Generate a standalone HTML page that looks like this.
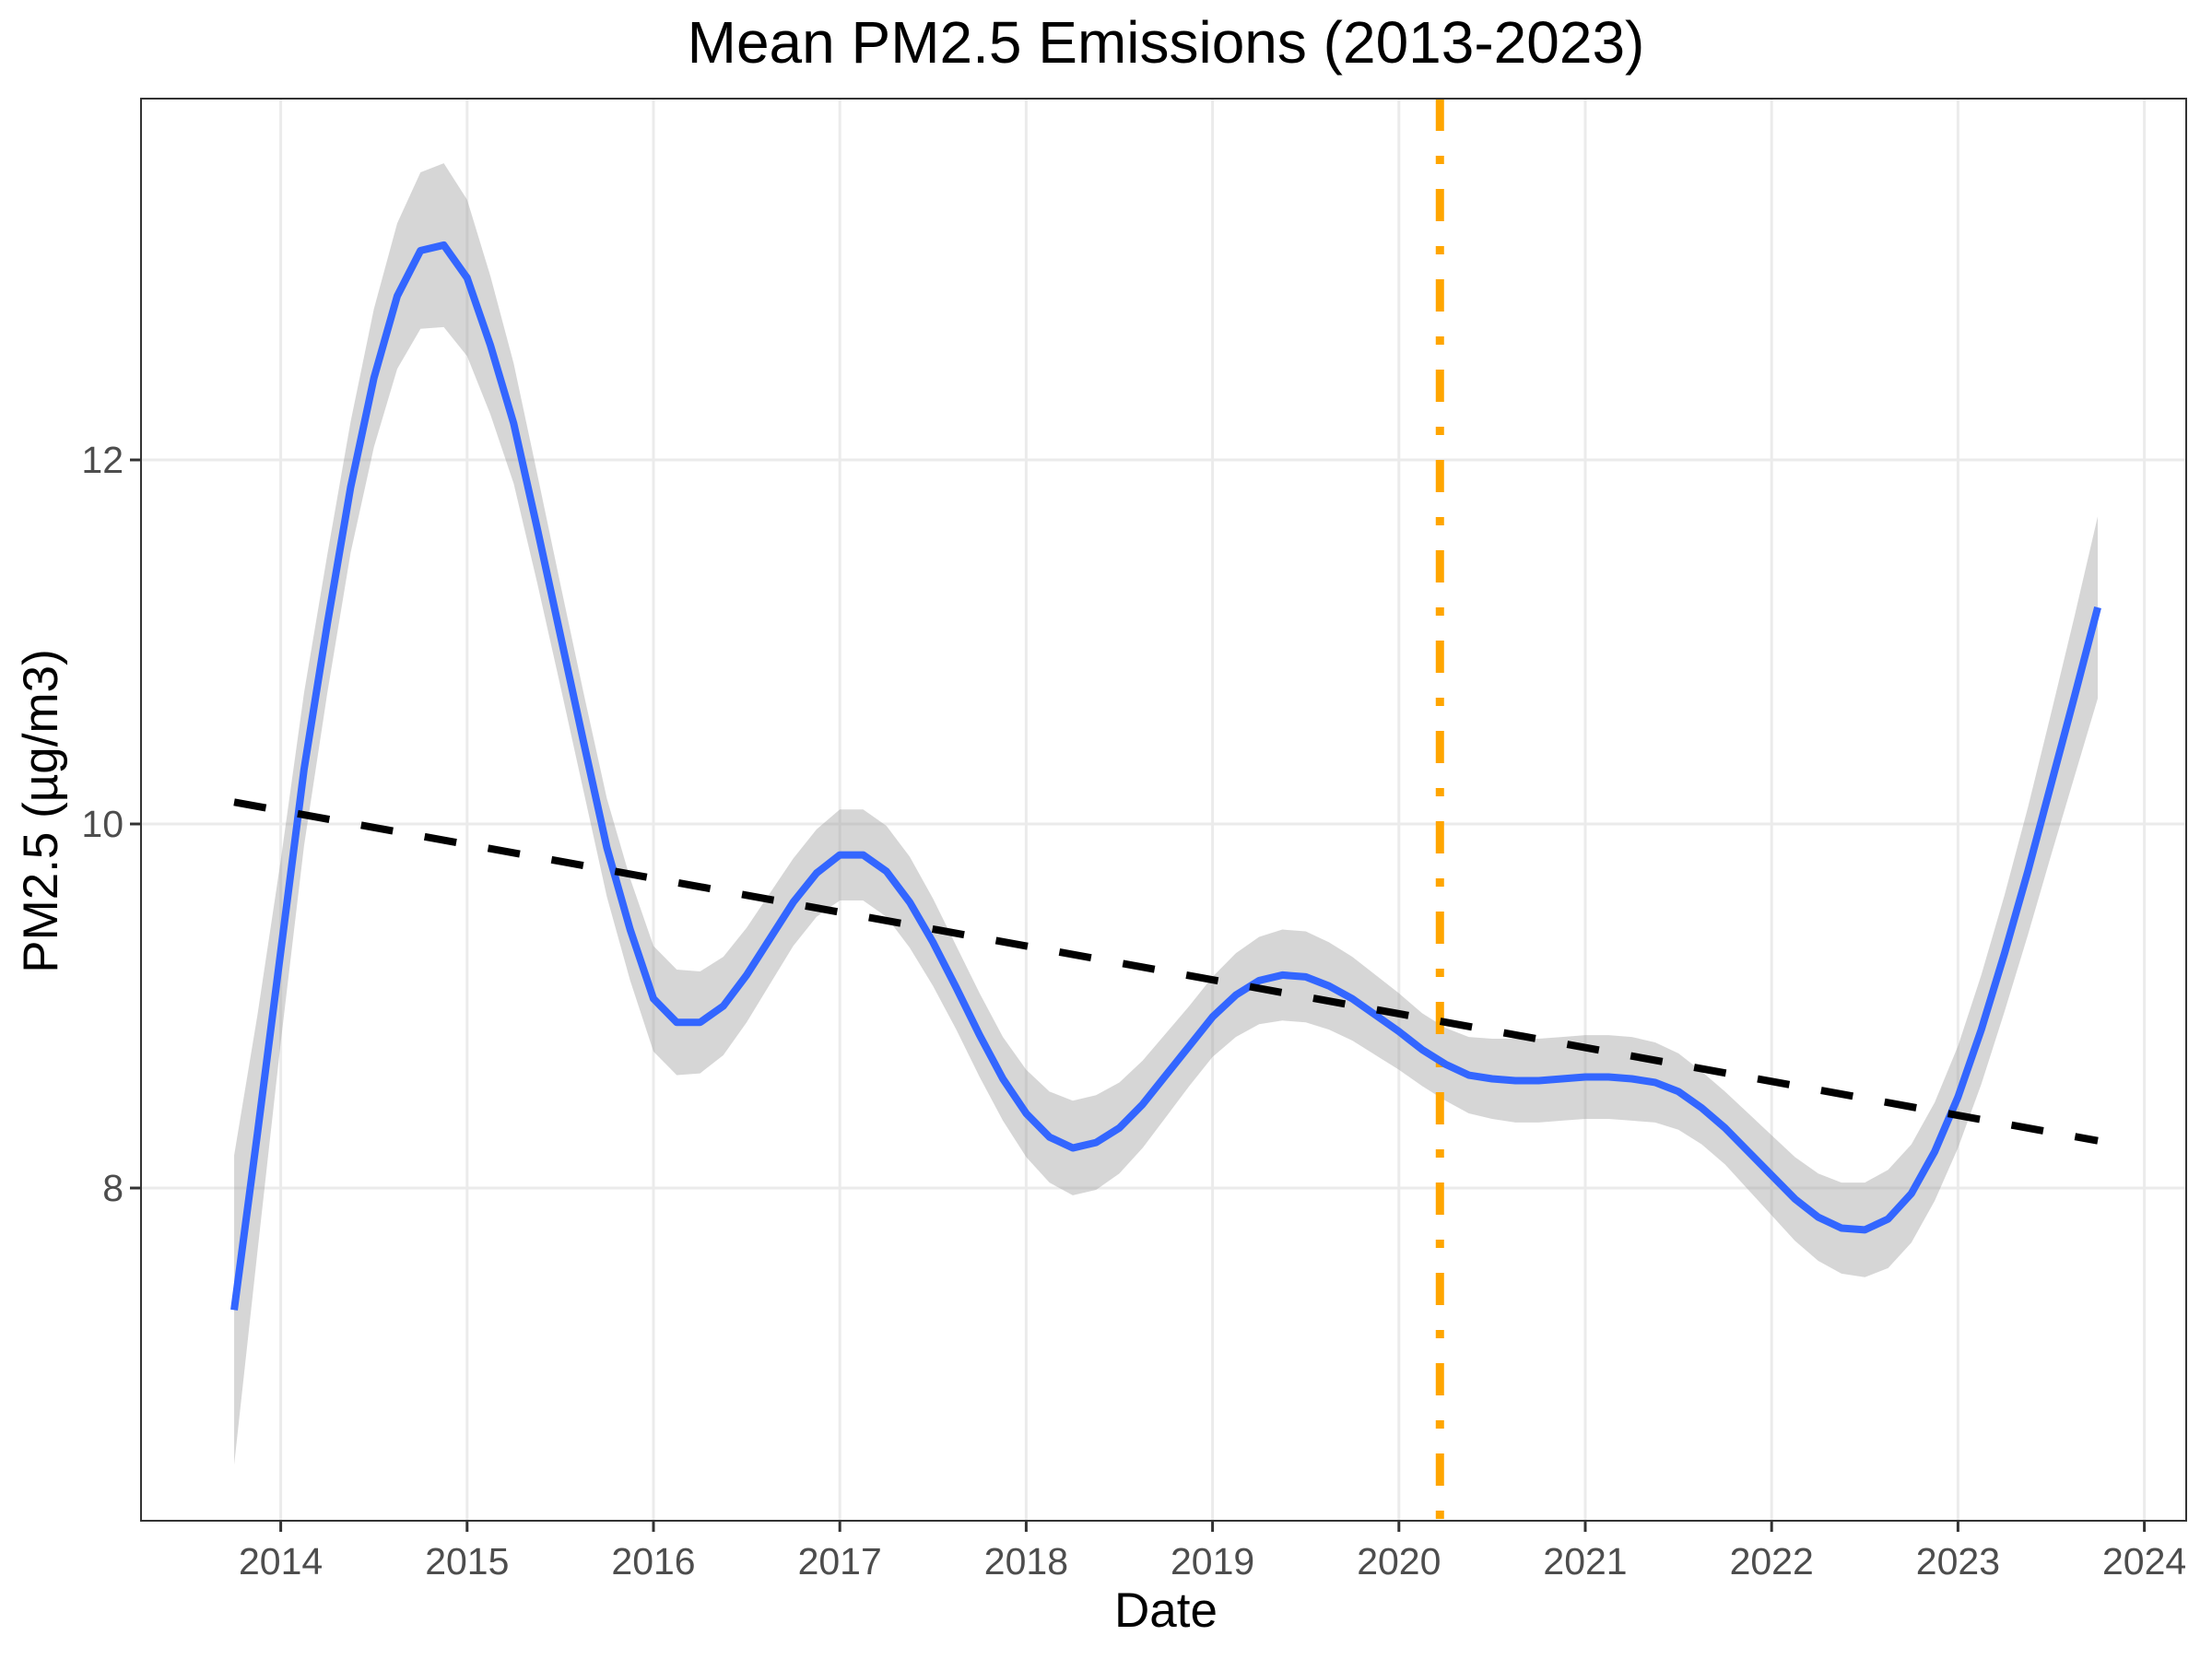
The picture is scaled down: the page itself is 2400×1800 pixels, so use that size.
<!DOCTYPE html>
<html><head><meta charset="utf-8"><style>
html,body{margin:0;padding:0;background:#fff;}
svg{display:block;font-family:"Liberation Sans",Arial,sans-serif;}
</style></head><body>
<svg id="chart" width="2400" height="1800" viewBox="0 0 2400 1800">
<rect width="2400" height="1800" fill="#fff"/>
<text x="1265" y="68" font-size="64" text-anchor="middle" fill="#000">Mean PM2.5 Emissions (2013-2023)</text>
<g id="grid"></g>
<g id="marks"></g>
<rect x="153" y="107" width="2219" height="1543" fill="none" stroke="#333" stroke-width="2"/>
<g id="axes"></g>
<text x="1265" y="1765" font-size="53" text-anchor="middle" fill="#000">Date</text>
<text transform="translate(62,880) rotate(-90)" font-size="53" text-anchor="middle" fill="#000">PM2.5 (µg/m3)</text>
</svg>
<script>
const xTicks = [2014,2015,2016,2017,2018,2019,2020,2021,2022,2023,2024];
const yTicks = [8,10,12];
const startYear = 2013.75;
const stepYear = 0.125;
const smoothVals = [7.33,8.3,9.3,10.3,11.1,11.85,12.45,12.9,13.15,13.18,13.0,12.63,12.2,11.63,11.04,10.45,9.87,9.42,9.04,8.91,8.91,9.0,9.17,9.37,9.57,9.73,9.83,9.83,9.74,9.57,9.35,9.1,8.84,8.6,8.41,8.28,8.22,8.25,8.33,8.46,8.62,8.78,8.94,9.06,9.14,9.17,9.16,9.11,9.04,8.95,8.86,8.76,8.68,8.62,8.6,8.59,8.59,8.6,8.61,8.61,8.6,8.58,8.53,8.44,8.33,8.2,8.07,7.94,7.84,7.78,7.77,7.83,7.97,8.2,8.5,8.87,9.29,9.74,10.22,10.7,11.19];
const bandHalf = [0.85,0.65,0.5,0.42,0.38,0.36,0.38,0.4,0.43,0.45,0.43,0.38,0.33,0.3,0.28,0.27,0.27,0.28,0.29,0.29,0.28,0.27,0.26,0.25,0.24,0.24,0.25,0.25,0.25,0.25,0.24,0.23,0.23,0.23,0.24,0.25,0.26,0.26,0.25,0.24,0.23,0.22,0.22,0.23,0.24,0.25,0.25,0.24,0.23,0.22,0.21,0.2,0.2,0.21,0.22,0.23,0.23,0.23,0.23,0.23,0.23,0.22,0.21,0.2,0.2,0.21,0.22,0.23,0.24,0.25,0.26,0.27,0.27,0.27,0.28,0.3,0.32,0.35,0.39,0.44,0.5];
const trendYears = [2013.75,2023.75];
const trendVals = [10.12,8.26];
const eventYear = [2020.22];

const NS='http://www.w3.org/2000/svg';
function X(yr){return 304.6+(yr-2014)*202.2;}
function Y(v){return 499+(12-v)*197.5;}
function mk(tag,attrs,parent){const e=document.createElementNS(NS,tag);for(const k in attrs)e.setAttribute(k,attrs[k]);parent.appendChild(e);return e;}
const grid=document.getElementById('grid'),marks=document.getElementById('marks'),axes=document.getElementById('axes');
xTicks.forEach(t=>{
  const l=mk('line',{x1:X(t),x2:X(t),y1:107,y2:1650,stroke:'#ebebeb','stroke-width':3},grid);
  
  
  const tk=mk('line',{x1:X(t),x2:X(t),y1:1650,y2:1662,stroke:'#333','stroke-width':3},axes);
  
  
  const tx=mk('text',{x:X(t),y:1708,'font-size':41,'text-anchor':'middle',fill:'#4d4d4d'},axes);
  tx.textContent=t;
  
  
});
yTicks.forEach(t=>{
  const l=mk('line',{x1:153,x2:2372,y1:Y(t),y2:Y(t),stroke:'#ebebeb','stroke-width':3},grid);
  
  
  const tk=mk('line',{x1:141,x2:153,y1:Y(t),y2:Y(t),stroke:'#333','stroke-width':3},axes);
  
  
  const tx=mk('text',{x:134,y:Y(t)+14,'font-size':41,'text-anchor':'end',fill:'#4d4d4d'},axes);
  tx.textContent=t;
  
  
});
let up=[],dn=[],ln=[];
smoothVals.forEach((v,i)=>{const x=X(startYear+i*stepYear);up.push(x+','+Y(v+bandHalf[i]));dn.unshift(x+','+Y(v-bandHalf[i]));ln.push(x+','+Y(v));});
const band=mk('polygon',{points:up.concat(dn).join(' '),fill:'#999','fill-opacity':0.4},marks);


const ev=mk('line',{x1:X(eventYear[0]),x2:X(eventYear[0]),y1:107,y2:1650,stroke:'#ffa500','stroke-width':9,'stroke-dasharray':'35 27 9 27'},marks);


const sm=mk('polyline',{points:ln.join(' '),fill:'none',stroke:'#3366ff','stroke-width':8,'stroke-linejoin':'round'},marks);


const tr=mk('line',{x1:X(trendYears[0]),y1:Y(trendVals[0]),x2:X(trendYears[1]),y2:Y(trendVals[1]),stroke:'#000','stroke-width':8,'stroke-dasharray':'35 35'},marks);


</script>
</body></html>
